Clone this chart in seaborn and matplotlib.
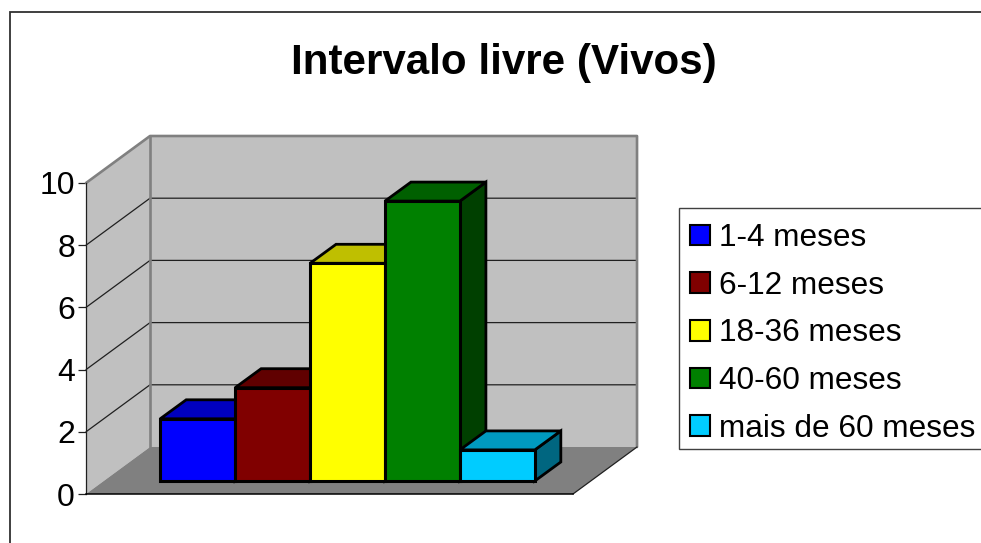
import numpy as np
import matplotlib
matplotlib.use("Agg")
import matplotlib.pyplot as plt
import matplotlib.colors as mcolors
from matplotlib.patches import Rectangle
import seaborn as sns

# Datos
meses = ["1-4 meses", "6-12 meses", "18-36 meses", "40-60 meses", "mais de 60 meses"]
valores = [2, 3, 7, 9, 1]
cores = ["#0000FF", "#800000", "#FFFF00", "#008000", "#00CCFF"]
ticks_y = [0, 2, 4, 6, 8, 10]

sns.set_style("white")
plt.rcParams["font.family"] = ["Liberation Sans", "DejaVu Sans"]

L, A = 981, 543
fig = plt.figure(figsize=(L / 100, A / 100), dpi=100, facecolor="white")


def caixa(x0, y0, x1, y1):
    # pixeles de la imagen -> fracciones de figura
    return [x0 / L, 1 - y1 / A, (x1 - x0) / L, (y1 - y0) / A]


# Plano frontal del eje y plano de las barras (desplazado en profundidad)
ax = fig.add_axes(caixa(86, 183, 573, 494))
ax_barras = fig.add_axes(caixa(104, 170, 591, 481))
ax_barras.patch.set_alpha(0)
ax.patch.set_alpha(0)

xlim = (-1.25, 5.25)
ylim = (0, 10)
ax.set_xlim(xlim)
ax.set_ylim(ylim)

# Profundidad de las paredes y de las barras, en unidades de datos
fundo_x, fundo_y = 64 / 74.9, 47 / 31.1
prof_x, prof_y = 26 / 74.9, 19 / 31.1

# Paredes y suelo
x0, x1 = xlim
ax.fill([x0, x0 + fundo_x, x0 + fundo_x, x0], [0, fundo_y, 10 + fundo_y, 10],
        color="#C0C0C0", lw=0, clip_on=False, zorder=1)
ax.fill([x0 + fundo_x, x1 + fundo_x, x1 + fundo_x, x0 + fundo_x],
        [fundo_y, fundo_y, 10 + fundo_y, 10 + fundo_y],
        color="#C0C0C0", lw=0, clip_on=False, zorder=1)
ax.fill([x0, x1, x1 + fundo_x, x0 + fundo_x], [0, 0, fundo_y, fundo_y],
        color="#808080", lw=0, clip_on=False, zorder=1)
for t in ticks_y[1:-1]:
    ax.plot([x0, x0 + fundo_x, x1 + fundo_x], [t, t + fundo_y, t + fundo_y],
            color="#202020", lw=0.9, clip_on=False, zorder=2)
ax.plot([x0 + fundo_x, x0 + fundo_x], [fundo_y, 10 + fundo_y], color="#808080", lw=1.9,
        clip_on=False, zorder=2)
ax.plot([x0, x0 + fundo_x, x1 + fundo_x, x1 + fundo_x],
        [10, 10 + fundo_y, 10 + fundo_y, fundo_y], color="#808080", lw=1.9,
        clip_on=False, zorder=2)
ax.plot([x1, x1 + fundo_x], [0, fundo_y], color="#202020", lw=0.9, clip_on=False, zorder=2)

# Barras
sns.barplot(x=meses, y=valores, hue=meses, palette=cores, width=1, dodge=False,
            saturation=1, legend=False, edgecolor="black", linewidth=2.2, ax=ax_barras)
ax_barras.set_xlim(xlim)
ax_barras.set_ylim(ylim)
ax_barras.axis("off")

barras = [c[0] for c in ax_barras.containers]
for i, (b, cor) in enumerate(zip(barras, cores)):
    xa, xb, h = b.get_x(), b.get_x() + b.get_width(), b.get_height()
    rgb = np.array(mcolors.to_rgb(cor))
    z = 3 + i
    ax_barras.fill([xb, xb + prof_x, xb + prof_x, xb], [0, prof_y, h + prof_y, h],
                   facecolor=rgb * 0.5, edgecolor="black", lw=2.0, clip_on=False, zorder=z)
    ax_barras.fill([xa, xb, xb + prof_x, xa + prof_x], [h, h, h + prof_y, h + prof_y],
                   facecolor=rgb * 0.75, edgecolor="black", lw=2.0, clip_on=False, zorder=z)
    b.set_zorder(z + 0.5)
    b.set_clip_on(False)

# Eje de valores
ax.set_xticks([])
ax.set_yticks(ticks_y)
ax.tick_params(axis="y", left=True, length=6, width=0.9, color="#202020", pad=2,
               labelsize=23, labelcolor="black")
ax.set_xlabel("")
sns.despine(ax=ax, top=True, right=True)
ax.spines["left"].set_color("#202020")
ax.spines["left"].set_linewidth(0.9)
ax.spines["bottom"].set_color("black")
ax.spines["bottom"].set_linewidth(1.1)
ax.spines["left"].set_zorder(2)
ax.spines["bottom"].set_zorder(2)

# Marco y título
fig.add_artist(Rectangle((10 / L, -0.1), 1.2, 1.1 - 12 / A, transform=fig.transFigure,
                         fill=False, edgecolor="#303030", lw=1.3))
fig.text(504 / L, 1 - 63 / A, "Intervalo livre (Vivos)", ha="center", va="center",
         fontsize=30.3, fontweight="bold", color="black")

# Leyenda: marco aparte para poder ajustar el alto
fig.add_artist(Rectangle((678.5 / L, 1 - 449 / A), 0.4, 241.5 / A, transform=fig.transFigure,
                         facecolor="white", edgecolor="#404040", lw=1.0))
leg = fig.legend(handles=barras, labels=meses, loc="upper left",
                 bbox_to_anchor=(677.5 / L, 1 - 210.5 / A), fontsize=22.7,
                 labelcolor="black", frameon=False,
                 borderaxespad=0, borderpad=0.4, labelspacing=0.56,
                 handlelength=0.63, handleheight=0.63, handletextpad=0.28)
for h in leg.legend_handles:
    h.set_linewidth(1.5)
    h.set_edgecolor("black")

fig.savefig("out.png", dpi=100)
